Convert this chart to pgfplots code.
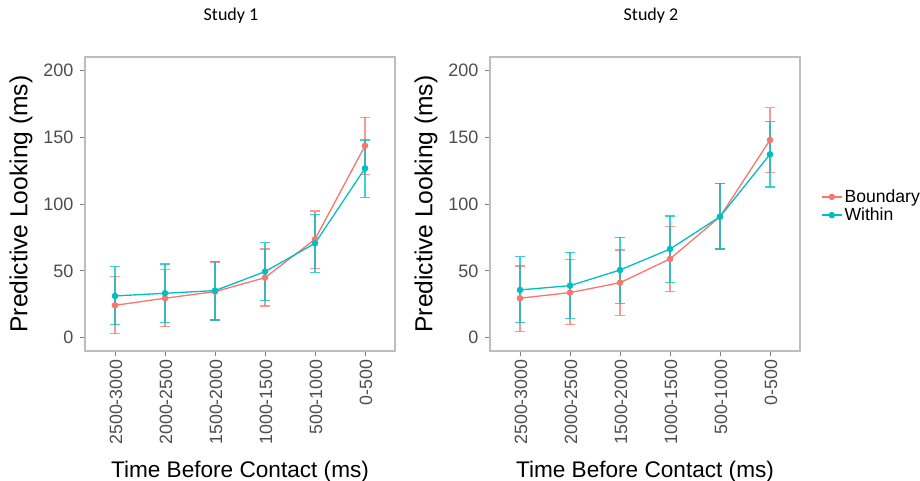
\documentclass[border=0pt]{standalone}
\usepackage{fontspec}
\setmainfont{Liberation Sans}
\newfontfamily\carlito{Carlito}
\usepackage{pgfplots}
\pgfplotsset{compat=1.18}
\definecolor{bcol}{HTML}{F8766D}
\definecolor{wcol}{HTML}{00BFC4}
\definecolor{tickgray}{HTML}{4D4D4D}
\definecolor{framegray}{HTML}{BEBEBE}
\pgfplotsset{
  mystyle/.style={
    scale only axis, width=310pt, height=294pt,
    xmin=-0.6, xmax=5.6, ymin=-10, ymax=210,
    xtick={0,...,5},
    xticklabels={2500-3000,2000-2500,1500-2000,1000-1500,500-1000,0-500},
    ytick={0,50,...,200},
    /pgf/number format/assume math mode=true,
    x tick label style={rotate=90, anchor=east, font=\fontsize{17.8}{21}\selectfont, text=tickgray, yshift=-1pt},
    y tick label style={font=\fontsize{18}{21}\selectfont, text=tickgray, xshift=-3pt},
    tick align=outside, major tick length=5pt,
    tick style={color=gray, line width=0.9pt},
    xtick pos=left, ytick pos=left,
    axis line style={framegray, line width=1.2pt},
    xlabel={Time Before Contact (ms)}, ylabel={Predictive Looking (ms)},
    xlabel style={font=\fontsize{22.6}{27}\selectfont, at={(axis description cs:0.5,0)}, anchor=base, yshift=-126pt},
    ylabel style={font=\fontsize{24.6}{28}\selectfont, at={(axis description cs:0,0.5)}, anchor=center, yshift=64pt},
    title style={font=\carlito\fontsize{18}{21}\selectfont, at={(axis description cs:0.5,1)}, anchor=base, yshift=30.8pt},
    legend style={draw=none, fill=none, at={(1,0.5)}, anchor=west, xshift=18pt, yshift=-2pt,
      font=\fontsize{17.6}{20}\selectfont, row sep=0pt, cells={anchor=west},
      nodes={inner ysep=2pt}},
    legend image code/.code={\draw[mark repeat=2,mark phase=2] plot coordinates {(0pt,0pt)(10pt,0pt)(20pt,0pt)};},
  },
  bser/.style={color=bcol, line width=1.3pt, mark=*, mark size=2.6pt,
    mark options={fill=bcol, draw=bcol},
    error bars/.cd, y dir=both, y explicit,
    error mark options={rotate=90, mark size=5pt, line width=1.1pt, draw=bcol, draw opacity=0.75},
    error bar style={line width=1.1pt, draw=bcol, draw opacity=0.75}},
  wser/.style={color=wcol, line width=1.3pt, mark=*, mark size=2.6pt,
    mark options={fill=wcol, draw=wcol},
    error bars/.cd, y dir=both, y explicit,
    error mark options={rotate=90, mark size=5pt, line width=1.1pt, draw=wcol, draw opacity=0.75},
    error bar style={line width=1.1pt, draw=wcol, draw opacity=0.75}},
}
\begin{document}
\begin{tikzpicture}[x=1pt,y=1pt]
\useasboundingbox (0,0) rectangle (920,480);
% Study 1
\begin{axis}[mystyle, at={(85pt,129pt)}, anchor=south west, title={Study 1}, title style={xshift=-9pt}]
\addplot[bser] coordinates {
 (0,24.2) += (0,21.4) -= (0,21.4)
 (1,29.5) += (0,21.4) -= (0,21.3)
 (2,34.4) += (0,22.2) -= (0,21.2)
 (3,44.9) += (0,21.4) -= (0,21.2)
 (4,73.6) += (0,21.2) -= (0,21.7)
 (5,143.6) += (0,21.2) -= (0,21.4)
};
\addplot[wser] coordinates {
 (0,31.2) += (0,21.7) -= (0,21.7)
 (1,33.2) += (0,21.9) -= (0,21.7)
 (2,35.2) += (0,21.7) -= (0,22.0)
 (3,49.4) += (0,21.7) -= (0,21.7)
 (4,70.6) += (0,21.7) -= (0,21.7)
 (5,126.7) += (0,21.2) -= (0,21.7)
};
\end{axis}
% Study 2
\begin{axis}[mystyle, at={(490pt,129pt)}, anchor=south west, title={Study 2}, title style={xshift=6pt}]
\addplot[bser] coordinates {
 (0,29.5) += (0,24.1) -= (0,25.0)
 (1,33.7) += (0,24.9) -= (0,24.2)
 (2,41.1) += (0,24.5) -= (0,24.4)
 (3,58.9) += (0,24.1) -= (0,24.7)
 (4,90.5) += (0,25.0) -= (0,24.2)
 (5,147.9) += (0,24.1) -= (0,24.5)
};
\addlegendentry{Boundary}
\addplot[wser] coordinates {
 (0,35.7) += (0,24.7) -= (0,24.5)
 (1,38.9) += (0,25.0) -= (0,24.4)
 (2,50.6) += (0,24.5) -= (0,24.9)
 (3,66.3) += (0,24.7) -= (0,24.9)
 (4,90.5) += (0,25.0) -= (0,24.2)
 (5,137.2) += (0,24.4) -= (0,24.5)
};
\addlegendentry{Within}
\end{axis}
\end{tikzpicture}
\end{document}
